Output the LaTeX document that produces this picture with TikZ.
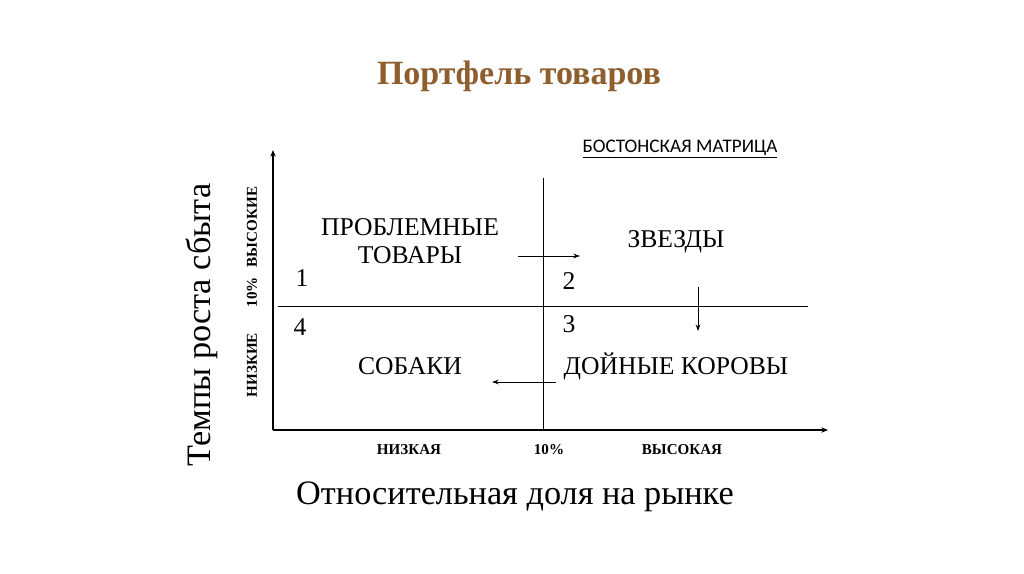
\documentclass[tikz,border=0pt]{standalone}
\usepackage{fontspec}
\setmainfont{Liberation Serif}
\newfontfamily\calib{Carlito}
\usetikzlibrary{arrows.meta}
\definecolor{titlebrown}{HTML}{8E5E2E}
\tikzset{
  ax/.style={line width=0.9pt,-{Stealth[length=5pt,width=4pt]}},
  div/.style={line width=0.7pt},
  mv/.style={line width=0.7pt,-{Stealth[length=5pt,width=3.5pt]}},
  big/.style={font=\fontsize{19.2}{21}\selectfont},
  small/.style={font=\fontsize{11.3}{12}\selectfont\bfseries},
  huge/.style={font=\fontsize{25.7}{28}\selectfont},
}
\begin{document}
\begin{tikzpicture}[x=0.75pt,y=-0.75pt]
\useasboundingbox (0,0) rectangle (1024,574);
\node[font=\fontsize{25.5}{28}\selectfont\bfseries,text=titlebrown] (title) at (519,76) {Портфель товаров};
\node[font=\calib\fontsize{14.4}{16}\selectfont] (bm) at (680,149) {\underline{БОСТОНСКАЯ МАТРИЦА}};
\coordinate (o) at (273,430);
\coordinate (ytop) at (273,150);
\coordinate (xend) at (828,430);
\draw[ax] (o) -- (ytop);
\draw[ax] (o) -- (xend);
\coordinate (hl) at (278,306);
\coordinate (hr) at (808,306);
\draw[div] (hl) -- (hr);
\coordinate (vt) at (543,178);
\coordinate (vb) at (543,430);
\draw[div] (vt) -- (vb);
\node[big,align=center] (prob) at (410,241) {ПРОБЛЕМНЫЕ\\ТОВАРЫ};
\node[big] (star) at (676,242) {ЗВЕЗДЫ};
\node[big] (dog) at (410,366) {СОБАКИ};
\node[big] (cow) at (676,366) {ДОЙНЫЕ КОРОВЫ};
\node[big] (n1) at (302,278) {1};
\node[big] (n2) at (569,281) {2};
\node[big] (n3) at (569,324) {3};
\node[big] (n4) at (300,327) {4};
\coordinate (a1s) at (518,256); \coordinate (a1e) at (580,256);
\draw[mv] (a1s) -- (a1e);
\coordinate (a2s) at (698,287); \coordinate (a2e) at (698,331);
\draw[mv] (a2s) -- (a2e);
\coordinate (a3s) at (556,382); \coordinate (a3e) at (492,382);
\draw[mv] (a3s) -- (a3e);
\node[small,rotate=90] (ylow) at (252,365) {НИЗКИЕ};
\node[small,rotate=90] (ymid) at (252,292) {10\%};
\node[small,rotate=90] (yhigh) at (252,227) {ВЫСОКИЕ};
\node[small] (xlow) at (409,450) {НИЗКАЯ};
\node[small] (xmid) at (549,450) {10\%};
\node[small] (xhigh) at (682,450) {ВЫСОКАЯ};
\node[huge,rotate=90] (ylab) at (202,325) {Темпы роста сбыта};
\node[huge] (xlab) at (515,497) {Относительная доля на рынке};
\end{tikzpicture}
\end{document}
